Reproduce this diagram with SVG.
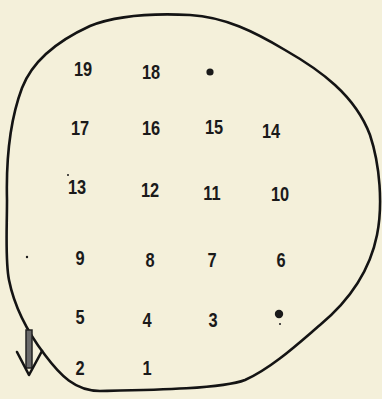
<svg xmlns="http://www.w3.org/2000/svg" width="382" height="399" viewBox="0 0 382 399">
<style>
.n{font-family:"Liberation Sans",Arial,sans-serif;font-weight:bold;font-size:20px;fill:#1a1a1a;text-anchor:middle}
.ink{fill:none;stroke:#141414;stroke-width:2.6;stroke-linecap:round;stroke-linejoin:round}
.dot{fill:#1a1a1a}
</style>
<rect width="382" height="399" fill="#f4f0da"/>
<g id="outline">
<path class="ink" d="M 7 200 C 6 160, 10 120, 22 88 C 32 62, 55 42, 90 26 C 115 16, 150 13, 190 15 C 225 17, 255 32, 285 50 C 320 70, 355 95, 370 135 C 380 165, 383 205, 377 235 C 370 270, 350 300, 320 325 C 300 342, 272 368, 245 380 C 222 389, 150 390, 100 391 C 75 391, 60 375, 45 355 C 32 338, 15 310, 9 280 C 5 260, 7 230, 7 200 Z"/>
</g>
<g id="connectors">
<rect x="26" y="330" width="6" height="38" fill="#6a6a6a" stroke="#222" stroke-width="1.5"/>
<polyline class="ink" points="17,352 29,375 42,351"/>
</g>
<g id="n19" transform="translate(83 76) scale(0.82 1)"><text class="n">19</text></g>
<g id="n18" transform="translate(151 79) scale(0.82 1)"><text class="n">18</text></g>
<g id="dotA"><circle class="dot" cx="210" cy="72" r="3.6"/></g>
<g id="n17" transform="translate(80 135) scale(0.82 1)"><text class="n">17</text></g>
<g id="n16" transform="translate(151 135) scale(0.82 1)"><text class="n">16</text></g>
<g id="n15" transform="translate(214 134) scale(0.82 1)"><text class="n">15</text></g>
<g id="n14" transform="translate(271 138) scale(0.82 1)"><text class="n">14</text></g>
<g id="n13" transform="translate(77 194) scale(0.82 1)"><text class="n">13</text></g>
<g id="n12" transform="translate(150 197) scale(0.82 1)"><text class="n">12</text></g>
<g id="n11" transform="translate(212 200) scale(0.82 1)"><text class="n">11</text></g>
<g id="n10" transform="translate(280 201) scale(0.82 1)"><text class="n">10</text></g>
<g id="n9" transform="translate(80 265) scale(0.82 1)"><text class="n">9</text></g>
<g id="n8" transform="translate(150 267) scale(0.82 1)"><text class="n">8</text></g>
<g id="n7" transform="translate(212 267) scale(0.82 1)"><text class="n">7</text></g>
<g id="n6" transform="translate(281 267) scale(0.82 1)"><text class="n">6</text></g>
<g id="n5" transform="translate(80 324) scale(0.82 1)"><text class="n">5</text></g>
<g id="n4" transform="translate(147 327) scale(0.82 1)"><text class="n">4</text></g>
<g id="n3" transform="translate(213 327) scale(0.82 1)"><text class="n">3</text></g>
<g id="dotB"><circle class="dot" cx="279" cy="314" r="4.2"/></g>
<g id="n2" transform="translate(80 375) scale(0.82 1)"><text class="n">2</text></g>
<g id="n1" transform="translate(147 375) scale(0.82 1)"><text class="n">1</text></g>
<g id="specks">
<circle class="dot" cx="68" cy="175" r="1"/>
<circle class="dot" cx="27" cy="257" r="1.2"/>
<circle class="dot" cx="280" cy="324" r="1"/>
</g>
</svg>
